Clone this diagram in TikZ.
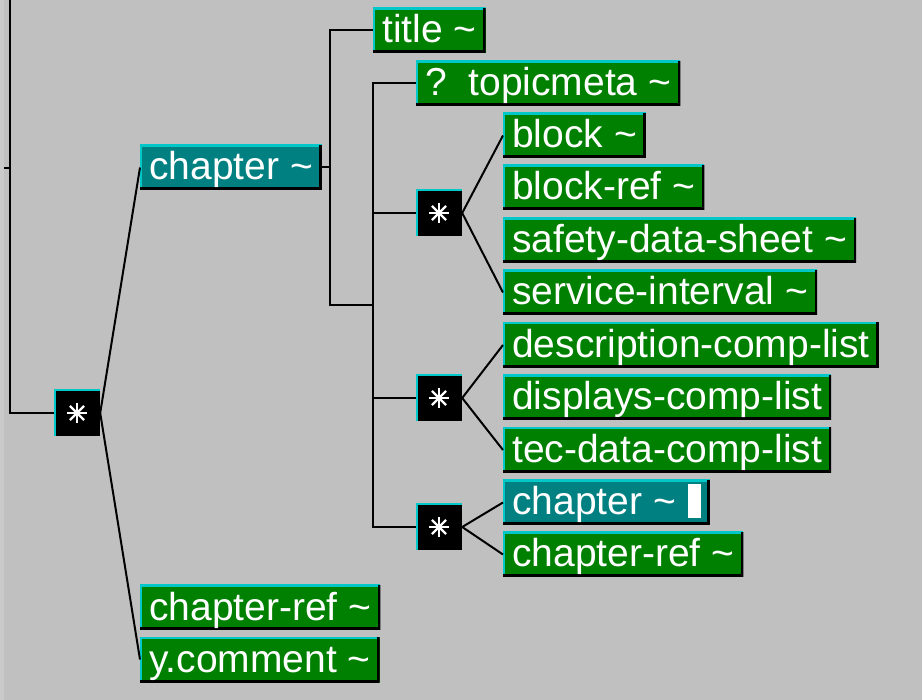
\documentclass[tikz,border=0pt]{standalone}
\usepackage{fontspec}
\setmainfont{Liberation Sans}
\usetikzlibrary{positioning}
\definecolor{canvas}{HTML}{C0C0C0}
\definecolor{canvasedge}{HTML}{CACACA}
\definecolor{elemgreen}{HTML}{008000}
\definecolor{elemteal}{HTML}{008080}
\definecolor{rimcyan}{HTML}{00C8C8}
\newcommand{\tl}{\textasciitilde}
\tikzset{wire/.style={line width=2pt, black}}
\tikzset{elem/.style={fill=elemgreen, text=white, anchor=west, minimum height=45pt,
  inner xsep=9pt, inner ysep=4pt, text height=31pt, text depth=6pt,
  font=\fontsize{39}{41}\selectfont,
  path picture={
    \draw[rimcyan, line width=4pt] (path picture bounding box.south west)
      -- (path picture bounding box.north west) -- (path picture bounding box.north east);
    \draw[black, line width=5pt] (path picture bounding box.north east)
      -- (path picture bounding box.south east) -- (path picture bounding box.south west);}}}
\tikzset{elemsel/.style={elem, fill=elemteal}}
\tikzset{rep/.style={fill=black, minimum size=46pt, inner sep=0pt,
  path picture={
    \draw[rimcyan, line width=3pt] (path picture bounding box.south west)
      -- (path picture bounding box.north west) -- (path picture bounding box.north east);
    \foreach \a in {0,45,...,315}
      \draw[white, line width=2.2pt] (path picture bounding box.center) -- +(\a:10pt);}}}

\begin{document}
\begin{tikzpicture}[x=1pt, y=-1pt]
\useasboundingbox (0,0) rectangle (922,700);
\fill[canvas] (0,0) rectangle (922,700);
\fill[canvasedge] (0,0) rectangle (4,700);

% top level
\node (anytop) [rep] at (77,413) {};
\node (chapter) [elemsel] at (140,167.5) {chapter \tl};
\node (chapref) [elem] at (140,607.5) {chapter-ref \tl};
\node (ycomment) [elem] at (140,659.5) {y.comment \tl};

% chapter content
\node (title) [elem] at (373,30.5) {title \tl};
\node (topicmeta) [elem] at (416,83.5) {?\ \ topicmeta \tl};
\node (anyblock) [rep] at (439,213) {};
\node (anylist) [rep] at (439,398) {};
\node (anychap) [rep] at (439,527) {};

\node (block) [elem] at (503,135.5) {block \tl};
\node (blockref) [elem] at (503,187.5) {block-ref \tl};
\node (sds) [elem] at (503,240.5) {safety-data-sheet \tl};
\node (svcint) [elem] at (503,292.5) {service-interval \tl};

\node (desclist) [elem] at (503,345) {description-comp-list};
\node (displist) [elem] at (503,397.5) {displays-comp-list};
\node (teclist) [elem] at (503,450) {tec-data-comp-list};

\node (subchap) [elemsel] at (503,502.5) {chapter \tl\hspace{12pt}\rule[-3pt]{13pt}{34pt}};
\node (subchapref) [elem] at (503,554.5) {chapter-ref \tl};

% connectors
\coordinate (rootline) at (10,0);
\coordinate (stub) at (4,168);
\coordinate (spine) at (330,305);
\coordinate (fork) at (373,305);

\draw[wire] (rootline) |- (anytop.west);
\draw[wire] (stub) -- (stub -| rootline);
\draw[wire] (anytop.east) -- (chapter.west);
\draw[wire] (anytop.east) -- (ycomment.west);

\draw[wire] (chapter.east) -- (chapter.east -| spine);
\draw[wire] (title.west) -| (spine) -- (fork);
\draw[wire] (topicmeta.west) -| (fork);
\draw[wire] (fork) |- (anyblock.west);
\draw[wire] (fork) |- (anylist.west);
\draw[wire] (fork) |- (anychap.west);

\draw[wire] (anyblock.east) -- (block.west);
\draw[wire] (anyblock.east) -- (svcint.west);
\draw[wire] (anylist.east) -- (desclist.west);
\draw[wire] (anylist.east) -- (teclist.west);
\draw[wire] (anychap.east) -- (subchap.west);
\draw[wire] (anychap.east) -- (subchapref.west);
\end{tikzpicture}
\end{document}
